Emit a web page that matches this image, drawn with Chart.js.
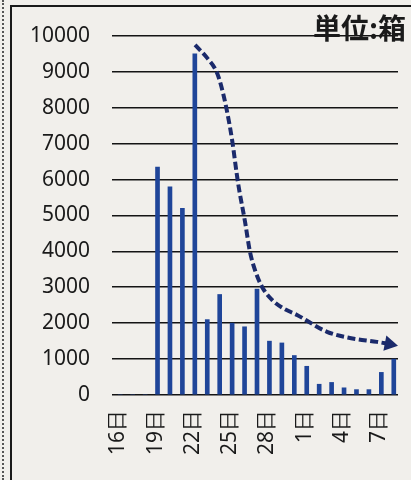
<!DOCTYPE html>
<html>
<head>
<meta charset="utf-8">
<script src="https://cdn.jsdelivr.net/npm/chart.js@4"></script>
<style>
    html, body { margin: 0; padding: 0; }
    body { width: 411px; height: 480px; background: #f1efeb; position: relative; overflow: hidden; }
    #frame { position: absolute; left: 10px; top: 5px; width: 420px; height: 490px; border-top: 2px solid #1a1a1a; border-left: 2px solid #1a1a1a; }
    #dots { position: absolute; left: 2px; top: 0; height: 480px; border-left: 2px dotted #555; }
    #unit { position: absolute; left: 313px; top: 7px; font: bold 28px "Noto Sans CJK JP", sans-serif; color: #1a1a1a; }
    canvas { position: absolute; left: 0; top: 0; }
</style>
</head>
<body>
<div id="dots"></div>
<div id="frame"></div>
<canvas id="chart" width="411" height="480"></canvas>
<div id="unit">単位:箱</div>
<script>
"use strict";

const days = ['16日','17日','18日','19日','20日','21日','22日','23日','24日','25日','26日','27日',
    '28日','29日','30日','1日','2日','3日','4日','5日','6日','7日','8日'];
const boxes = [0, 0, 0, 6350, 5800, 5200, 9500, 2100, 2800, 2000, 1900, 2950,
    1500, 1450, 1100, 800, 300, 350, 200, 150, 150, 630, 1000];

// hand drawn trend arrow, in category index / value units
const trendX = [6.18, 7.15, 7.95, 8.43, 8.84, 9.16, 9.64, 10.2, 10.6, 11.0, 11.57, 12.37, 13.25, 14.38, 16.79, 18.63, 20.8, 21.8];
const trendY = [9750, 9390, 8970, 8410, 7740, 7100, 5900, 4820, 3980, 3480, 3010, 2650, 2420, 2230, 1760, 1590, 1480, 1420];

const yTicks = [0, 1000, 2000, 3000, 4000, 5000, 6000, 7000, 8000, 9000, 10000];

const ink = '#1a1a1a';
const last = trendX.length - 1;

new Chart(document.getElementById('chart'), {
    data: {
        labels: days,
        datasets: [
            {
                type: 'line',
                xAxisID: 'x2',
                data: trendX.map((x, i) => ({x: x, y: trendY[i]})),
                borderColor: '#1b2a6b',
                backgroundColor: '#1b2a6b',
                borderWidth: 4,
                borderDash: [8, 3.5],
                cubicInterpolationMode: 'monotone',
                fill: false,
                pointStyle: trendX.map((x, i) => i === last ? 'triangle' : 'circle'),
                pointRadius: trendX.map((x, i) => i === last ? 9 : 0),
                pointRotation: 101,
                pointBorderWidth: 0
            },
            {
                type: 'bar',
                data: boxes,
                backgroundColor: '#1f4599',
                barThickness: 4
            }
        ]
    },
    options: {
        responsive: false,
        animation: false,
        layout: { padding: { top: 36, right: 13, left: 0, bottom: 0 } },
        plugins: { legend: { display: false }, tooltip: { enabled: false } },
        scales: {
            x: {
                type: 'category',
                grid: { display: false, drawTicks: false },
                border: { display: false },
                afterFit: (s) => { s.height = 85; s.paddingLeft = 0; s.paddingRight = 0; },
                ticks: {
                    autoSkip: false,
                    maxRotation: 90,
                    minRotation: 90,
                    padding: 15,
                    color: ink,
                    font: { family: 'Noto Sans', size: 21 },
                    callback: (v, i) => i % 3 === 0 ? days[i] : ''
                }
            },
            x2: {
                type: 'linear',
                display: false,
                min: -0.5,
                max: 22.5
            },
            y: {
                min: 0,
                max: 10000,
                afterFit: (s) => { s.width = 112; s.paddingTop = 0; s.paddingBottom = 0; },
                afterBuildTicks: (s) => { s.ticks = yTicks.map(v => ({value: v})); },
                border: { display: false },
                grid: { color: '#141414', lineWidth: 1.6, drawTicks: false },
                ticks: {
                    padding: 22,
                    color: ink,
                    font: { family: 'Noto Sans', size: 21 },
                    callback: (v) => String(v)
                }
            }
        }
    }
});
</script>
</body>
</html>
